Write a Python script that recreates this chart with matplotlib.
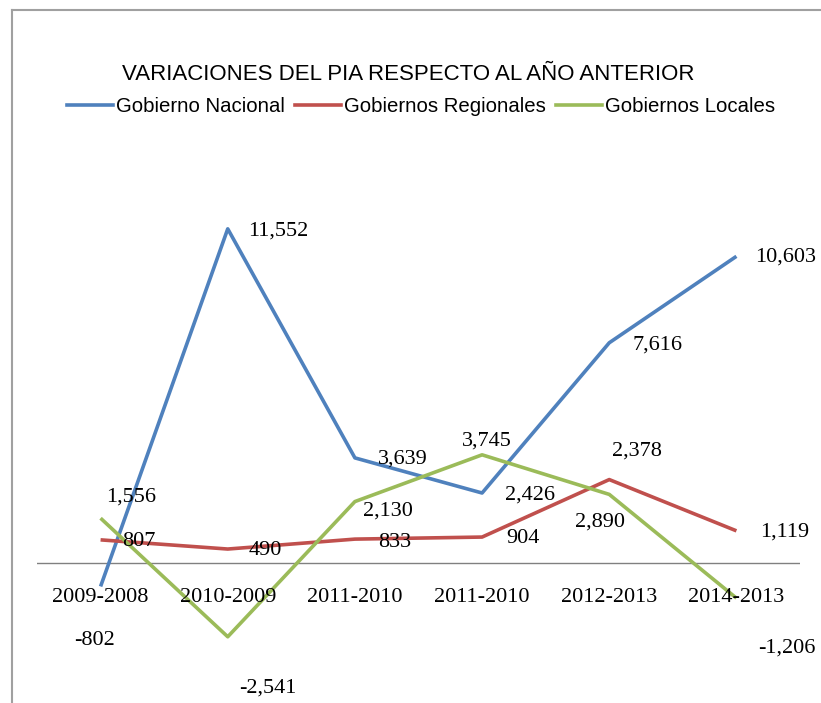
import numpy as np
import matplotlib.pyplot as plt
from matplotlib.lines import Line2D

###------------- data -------------###
periodos = ['2009-2008', '2010-2009', '2011-2010', '2011-2010', '2012-2013', '2014-2013']
nacional = [-802, 11552, 3639, 2426, 7616, 10603]
regionales = [807, 490, 833, 904, 2890, 1119]
locales = [1556, -2541, 2130, 3745, 2378, -1206]

nombres = ['Gobierno Nacional', 'Gobiernos Regionales', 'Gobiernos Locales']
colores = ['#4F81BD', '#C0504D', '#9BBB59']

# label offsets in pixels (dx to left edge, dy down), placed by hand in the original
offsets = [
    [(-26, 54), (20, 2), (23, 1), (23, 2), (23, 2), (19, 1)],
    [(22, 2), (21, 1), (23, 3), (24, 1), (-34, 42), (24, 1)],
    [(6, -21), (11, 51), (8, 9), (-20, -14), (3, -43), (22, 50)],
]

plt.rcParams['font.family'] = ['Liberation Serif', 'DejaVu Serif']

fig = plt.figure(figsize=(8.21, 7.03), dpi=100)
W, H = 821, 703
ax = fig.add_axes([37 / W, 1 - 679 / H, (800 - 37) / W, (679 - 158) / H])

x = np.arange(len(periodos))
series = [nacional, regionales, locales]
for vals, col, offs in zip(series, colores, offsets):
    ax.plot(x, vals, color=col, lw=2.6, solid_capstyle='butt', zorder=3)
    for xi, v, (dx, dy) in zip(x, vals, offs):
        ax.annotate(f'{v:,}', (xi, v), xytext=(dx * 0.72, -dy * 0.72),
                    textcoords='offset points', ha='left', va='center',
                    fontsize=16, color='black', zorder=4)

ax.set_xlim(-0.5, 5.5)
ax.set_ylim(-4000, 14000)
ax.axhline(0, color='#808080', lw=1.0, zorder=2)
for s in ax.spines.values():
    s.set_visible(False)
ax.set_xticks([])
ax.set_yticks([])

# category labels sit just under the zero line
for xi, lab in zip(x, periodos):
    ax.annotate(lab, (xi, 0), xytext=(0, -34 * 0.72), textcoords='offset points',
                ha='center', va='center', fontsize=16, color='black')

###------------- title and legend -------------###
fig.text(408 / W, 1 - 74 / H, 'VARIACIONES DEL PIA RESPECTO AL AÑO ANTERIOR',
         ha='center', va='center', fontsize=16, family='Liberation Sans')

handles = [Line2D([], [], color=c, lw=2.6) for c in colores]
fig.legend(handles, nombres, loc='center', bbox_to_anchor=(421 / W, 1 - 107 / H), ncol=3,
           frameon=False, handlelength=2.25, handletextpad=0.15, columnspacing=0.5,
           borderpad=0, borderaxespad=0,
           prop={'family': 'Liberation Sans', 'size': 14.7})

# chart frame (left and top edge visible)
fig.add_artist(Line2D([12 / W, 12 / W], [0, 1 - 10 / H], color='#A0A0A0', lw=1.5))
fig.add_artist(Line2D([12 / W, 1], [1 - 10 / H, 1 - 10 / H], color='#A0A0A0', lw=1.5))

fig.savefig('out.png', dpi=100)
